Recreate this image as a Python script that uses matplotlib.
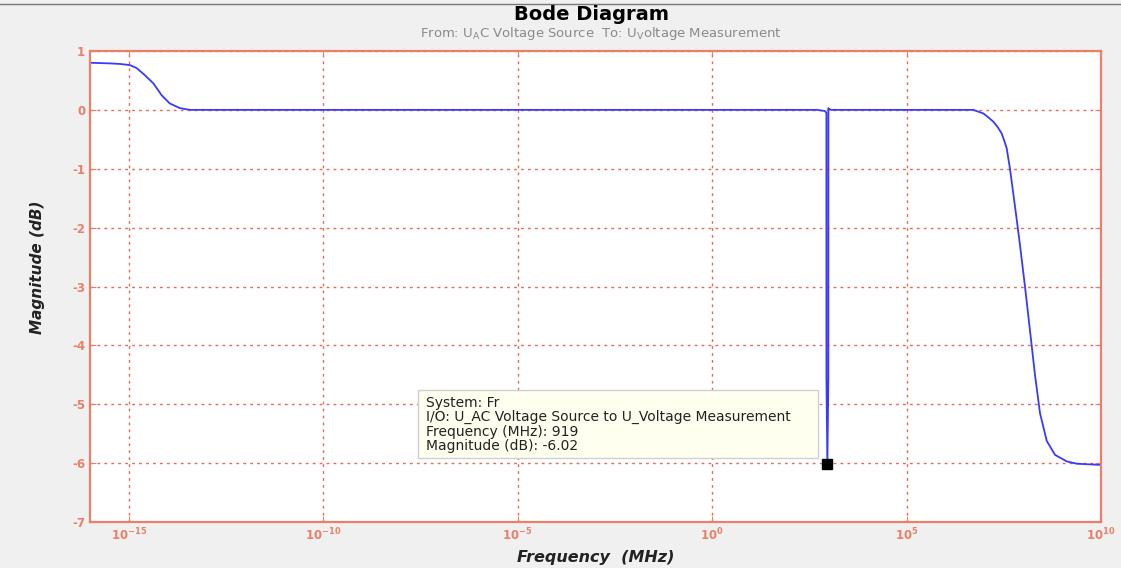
import numpy as np
import matplotlib
matplotlib.use("Agg")
import matplotlib.pyplot as plt
from matplotlib.lines import Line2D
from matplotlib.patches import Rectangle

# frequency (log10 MHz) and magnitude (dB)
log_freq = [-16.0, -15.5, -15.23, -14.97, -14.80, -14.59, -14.37, -14.16,
            -13.95, -13.69, -13.43, -10.0, -5.0, 0.0, 2.7, 2.90, 2.938,
            2.939, 2.9633, 2.988, 2.989, 3.0, 3.05, 5.0, 6.5, 6.716, 6.973,
            7.09, 7.230, 7.34, 7.446, 7.51, 7.574, 7.659, 7.744, 7.832, 7.917,
            8.045, 8.174, 8.302, 8.431, 8.603, 8.817, 9.118, 9.375, 9.974, 10.0]
mag_db = [0.80, 0.79, 0.78, 0.76, 0.71, 0.59, 0.45, 0.25,
          0.11, 0.03, 0.0, 0.0, 0.0, 0.0, 0.0, -0.02, -0.05,
          -4.55, -6.02, -4.55, 0.03, 0.02, 0.0, 0.0, 0.0, 0.0, -0.06,
          -0.12, -0.20, -0.29, -0.40, -0.52, -0.65, -1.0, -1.42, -1.86, -2.30,
          -3.0, -3.75, -4.5, -5.15, -5.62, -5.86, -5.97, -6.01, -6.03, -6.03]

tip_freq = 919
tip_mag = -6.02
tip_lines = ["System: Fr",
             "I/O: U_AC Voltage Source to U_Voltage Measurement",
             "Frequency (MHz): 919",
             "Magnitude (dB): -6.02"]

xticks = [1e-15, 1e-10, 1e-5, 1e0, 1e5, 1e10]
xtick_labels = ["$10^{-15}$", "$10^{-10}$", "$10^{-5}$", "$10^{0}$", "$10^{5}$", "$10^{10}$"]
yticks = [1, 0, -1, -2, -3, -4, -5, -6, -7]

axis_col = "#e8806a"
grid_col = "#e86a55"
W, H = 1121, 568

plt.rcParams["mathtext.default"] = "regular"

fig = plt.figure(figsize=(W / 100, H / 100), dpi=100, facecolor="#f0f0f0")
ax = fig.add_axes([90 / W, 1 - 522 / H, (1101 - 90) / W, (522 - 51) / H])
ax.set_facecolor("white")

freq = 10 ** np.array(log_freq)
ax.plot(freq, mag_db, color="#3a3aff", lw=1.3)
ax.plot([tip_freq], [tip_mag], marker="s", ms=7, color="black", mec="black", zorder=5)

ax.set_xscale("log")
ax.set_xlim(1e-16, 1e10)
ax.set_ylim(-7, 1)
ax.set_xticks(xticks)
ax.set_xticklabels(xtick_labels)
ax.minorticks_off()
ax.set_yticks(yticks)
ax.set_yticklabels([str(v) for v in yticks])

ax.grid(True, color=grid_col, ls=(0, (2, 3)), lw=1.0)
for s in ax.spines.values():
    s.set_color(axis_col)
    s.set_linewidth(1.6)
ax.tick_params(colors=axis_col, direction="in", length=4, labelsize=8.5,
               top=True, right=True)
for lab in ax.get_xticklabels() + ax.get_yticklabels():
    lab.set_color(axis_col)
    lab.set_fontweight("bold")

ax.set_xlabel("Frequency  (MHz)", fontsize=11.5, fontweight="bold", style="italic",
              family="DejaVu Sans", color="#222222", labelpad=5)
ax.set_ylabel("Magnitude (dB)", fontsize=11, fontweight="bold", style="italic",
              family="DejaVu Sans", color="#222222")
ax.yaxis.set_label_coords(-0.045, 0.541)

fig.text(592 / W, 1 - 15 / H, "Bode Diagram", ha="center", va="center",
         fontsize=14, fontweight="bold", family="DejaVu Sans")
fig.text(601 / W, 1 - 34 / H, "From: U$_{A}$C Voltage Source  To: U$_{V}$oltage Measurement",
         ha="center", va="center", fontsize=9.5, color="#8a8a8a", family="DejaVu Sans")

# data tip box
fig.add_artist(Rectangle((418 / W, 1 - 458 / H), 400 / W, 68 / H, transform=fig.transFigure,
                         fc="#fffff0", ec="#cfcfcf", lw=1, zorder=4))
fig.text(426 / W, 1 - 396 / H, "\n".join(tip_lines), ha="left", va="top",
         fontsize=10, family="DejaVu Sans", color="#222222", linespacing=1.03, zorder=5)

fig.add_artist(Line2D([0, 1], [1 - 4 / H, 1 - 4 / H], color="#777777", lw=1))

fig.savefig("out.png", dpi=100, facecolor=fig.get_facecolor())
